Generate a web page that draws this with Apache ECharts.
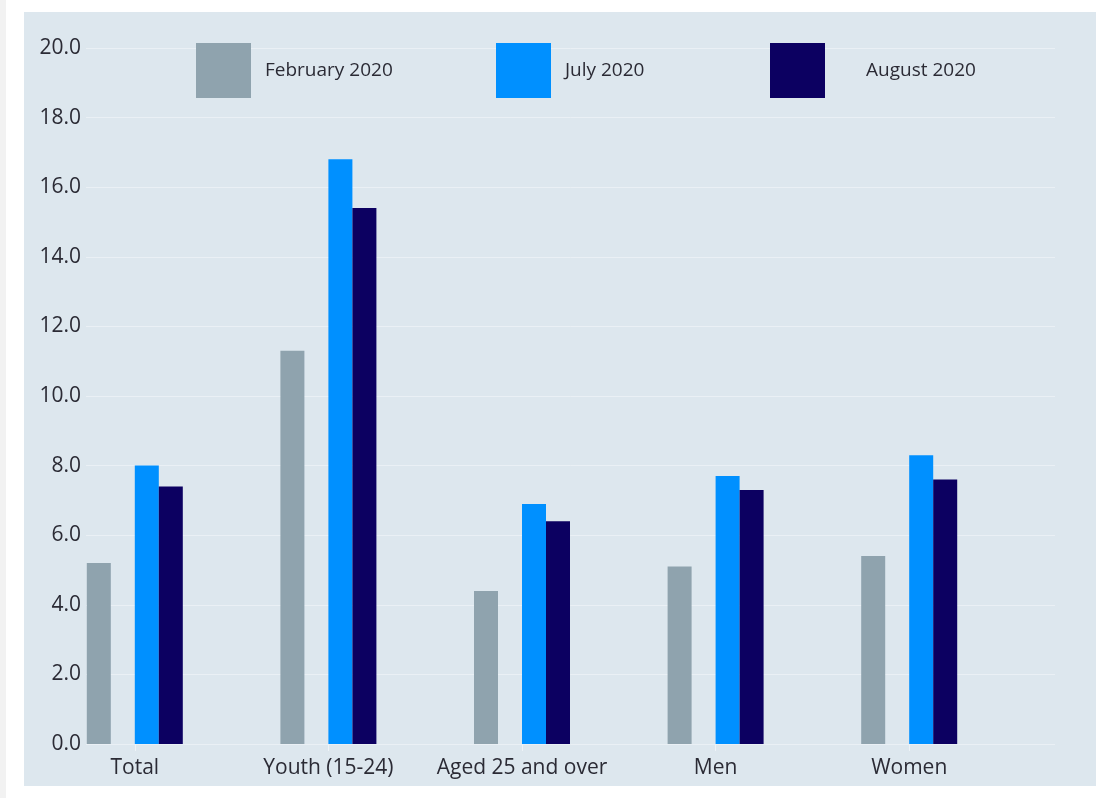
<!DOCTYPE html>
<html>
<head>
<meta charset="utf-8">
<script src="https://cdn.jsdelivr.net/npm/echarts@6/dist/echarts.min.js"></script>
<style>
  html, body { margin: 0; padding: 0; background: #fff; }
  #chart { width: 1096px; height: 798px; }
</style>
</head>
<body>
<div id="chart"></div>
<script>
const categories = ['Total', 'Youth (15-24)', 'Aged 25 and over', 'Men', 'Women'];
const february2020 = [5.2, 11.3, 4.4, 5.1, 5.4];
const july2020 = [8.0, 16.8, 6.9, 7.7, 8.3];
const august2020 = [7.4, 15.4, 6.4, 7.3, 7.6];
const yTicks = [0, 2, 4, 6, 8, 10, 12, 14, 16, 18, 20];

const textColor = '#2b2b35';
const font = '"Open Sans", "Noto Sans", sans-serif';

const chart = echarts.init(document.getElementById('chart'));

// one legend per item so each can sit where it does in the original
function legendFor(name, left, textGap) {
  return {
    data: [name],
    left: left,
    top: 43,
    padding: 0,
    icon: 'rect',
    itemWidth: 55,
    itemHeight: 55,
    selectedMode: false,
    textStyle: {
      color: textColor,
      fontSize: 19,
      fontFamily: font,
      padding: [3, 0, 0, textGap]
    }
  };
}

const option = {
  backgroundColor: '#fff',
  animation: false,
  graphic: [
    { type: 'rect', z: -10, shape: { x: 0, y: 0, width: 6, height: 798 }, style: { fill: '#f2f2f2' } },
    { type: 'rect', z: -10, shape: { x: 24, y: 12, width: 1072, height: 774 }, style: { fill: '#dde7ee' } }
  ],
  legend: [
    legendFor('February 2020', 196, 9),
    legendFor('July 2020', 496, 9),
    legendFor('August 2020', 770, 36)
  ],
  grid: [
    // bars
    { left: 38, width: 968, top: 48, bottom: 54 },
    // value axis + gridlines
    { left: 86, right: 41, top: 48, bottom: 54 }
  ],
  xAxis: [
    {
      type: 'category',
      gridIndex: 0,
      data: categories,
      axisLine: { show: false },
      axisTick: { show: true, alignWithLabel: true, length: 7, lineStyle: { color: '#eef3f7' } },
      axisLabel: { interval: 0, color: textColor, fontSize: 21, fontFamily: font, margin: 14 }
    },
    {
      type: 'category',
      gridIndex: 1,
      data: categories,
      show: false
    }
  ],
  yAxis: [
    { type: 'value', gridIndex: 0, min: 0, max: 20, interval: 2, show: false },
    {
      type: 'value',
      gridIndex: 1,
      min: yTicks[0],
      max: yTicks[yTicks.length - 1],
      interval: 2,
      axisLine: { show: false },
      axisTick: { show: false },
      axisLabel: {
        color: textColor,
        fontSize: 21,
        fontFamily: font,
        margin: 5,
        formatter: v => v.toFixed(1)
      },
      splitLine: { lineStyle: { color: '#eaf0f5', width: 1 } }
    }
  ],
  series: [
    { name: 'February 2020', type: 'bar', data: february2020, barWidth: 24, barGap: 0, itemStyle: { color: '#8fa3ae' } },
    // empty slot between February and July
    { name: 'spacer', type: 'bar', data: categories.map(() => '-'), barWidth: 24, barGap: 0 },
    { name: 'July 2020', type: 'bar', data: july2020, barWidth: 24, barGap: 0, itemStyle: { color: '#0090ff' } },
    { name: 'August 2020', type: 'bar', data: august2020, barWidth: 24, barGap: 0, itemStyle: { color: '#0c0061' } }
  ]
};

chart.setOption(option);
</script>
</body>
</html>
